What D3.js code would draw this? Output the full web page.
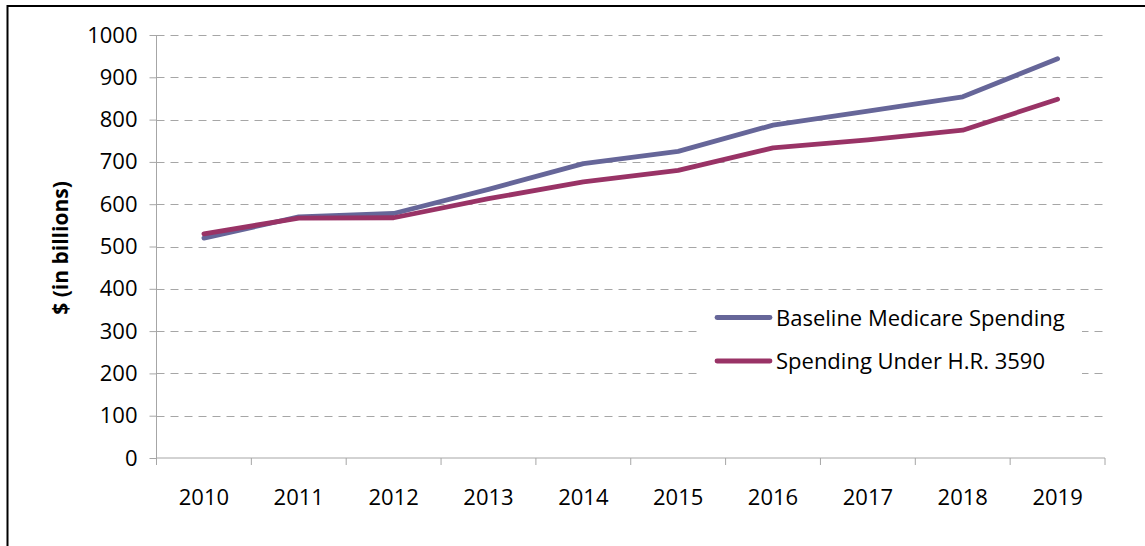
<!DOCTYPE html>
<html>
<head>
<meta charset="utf-8">
<script src="https://cdn.jsdelivr.net/npm/d3@7"></script>
<style>
  html, body { margin: 0; padding: 0; background: #fff; }
  svg { display: block; }
  text { font-family: "Open Sans", Lato, sans-serif; fill: #000; }
</style>
</head>
<body>
<svg id="chart" width="1145" height="546"></svg>
<script>
const years = ["2010","2011","2012","2013","2014","2015","2016","2017","2018","2019"];
const baseline = [520, 570, 578, 635, 696, 725, 787, 820, 854, 944];
const underHR = [530, 567, 568, 613, 653, 680, 733, 752, 775, 848];
const yTicks = [0,100,200,300,400,500,600,700,800,900,1000];
const seriesNames = ["Baseline Medicare Spending", "Spending Under H.R. 3590"];
const seriesColors = ["#666699", "#993366"];

const svg = d3.select("#chart");
const x = d3.scaleBand().domain(years).range([156.5, 1105]).padding(0);
const y = d3.scaleLinear().domain([0, 1000]).range([458, 35]);
const axisColor = "#a6a6a6";
const fontFam = "Open Sans";
const fs = 22;

// outer border (top & left visible)
svg.append("line").attr("x1", 7.5).attr("x2", 1145).attr("y1", 6).attr("y2", 6)
  .attr("stroke", "#000").attr("stroke-width", 2);
svg.append("line").attr("x1", 7.5).attr("x2", 7.5).attr("y1", 5).attr("y2", 546)
  .attr("stroke", "#000").attr("stroke-width", 2);

// gridlines
svg.append("g").selectAll("line").data(yTicks.filter(d => d > 0)).join("line")
  .attr("x1", 156.5).attr("x2", 1105)
  .attr("y1", d => Math.round(y(d)) + 0.5).attr("y2", d => Math.round(y(d)) + 0.5)
  .attr("stroke", "#a6a6a6").attr("stroke-width", 1).attr("stroke-dasharray", "8,6");

// y axis
const yAxis = svg.append("g").attr("transform", "translate(156.5,0)")
  .call(d3.axisLeft(y).tickValues(yTicks).tickSize(7).tickPadding(12).tickFormat(d3.format("d")));
yAxis.select(".domain").attr("stroke", axisColor).attr("d", `M0,${y(1000)}V${y(0)}`);
yAxis.selectAll(".tick line").attr("stroke", axisColor);
yAxis.selectAll(".tick text").attr("font-size", fs).attr("font-family", fontFam).attr("fill", "#000");

// x axis
const xAxis = svg.append("g").attr("transform", `translate(0,${y(0)})`)
  .call(d3.axisBottom(x).tickSize(7));
xAxis.select(".domain").attr("stroke", axisColor).attr("d", `M156.5,0H1105V7`);
xAxis.selectAll(".tick line").attr("stroke", axisColor).attr("x1", -x.bandwidth()/2).attr("x2", -x.bandwidth()/2);
xAxis.selectAll(".tick text").attr("font-size", fs).attr("font-family", fontFam).attr("fill", "#000")
  .attr("y", 47).attr("dy", 0);

// y label
svg.append("text")
  .attr("transform", "translate(68,248) rotate(-90)")
  .attr("text-anchor", "middle")
  .attr("font-size", 21).attr("font-weight", "bold")
  .text("$ (in billions)");

// lines
const line = d3.line().x((d, i) => x(years[i]) + x.bandwidth()/2).y(d => y(d));
[baseline, underHR].forEach((s, i) => {
  svg.append("path").datum(s).attr("d", line)
    .attr("fill", "none").attr("stroke", seriesColors[i]).attr("stroke-width", 4.8)
    .attr("stroke-linejoin", "round").attr("stroke-linecap", "round");
});

// legend
const lg = svg.append("g");
lg.append("rect").attr("x", 702).attr("y", 298).attr("width", 380).attr("height", 82).attr("fill", "#fff");
const legY = [317.5, 361];
seriesNames.forEach((n, i) => {
  lg.append("line").attr("x1", 717).attr("x2", 770).attr("y1", legY[i]).attr("y2", legY[i])
    .attr("stroke", seriesColors[i]).attr("stroke-width", 4.8).attr("stroke-linecap", "round");
  lg.append("text").attr("x", 776).attr("y", legY[i] + 8).attr("font-size", fs).text(n);
});
</script>
</body>
</html>
